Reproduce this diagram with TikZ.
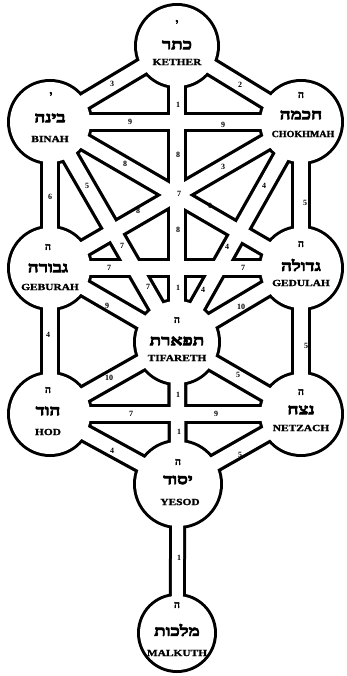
\documentclass[tikz,border=0pt]{standalone}
\usepackage{fontspec}
\setmainfont{Liberation Serif}
\newfontfamily\hebw[Script=Hebrew,FakeStretch=1.3,FakeBold=5]{Liberation Serif}
\newfontfamily\hebn[Script=Hebrew,FakeBold=4]{Liberation Serif}
\newfontfamily\engw[FakeStretch=1.2,FakeBold=1.5]{Liberation Serif}
\newfontfamily\engn[FakeStretch=1.05,FakeBold=1.5]{Liberation Serif}
\TeXXeTstate=1
\begin{document}
\begin{tikzpicture}[x=1pt,y=-1pt,
  pathout/.style={line width=20pt, draw=black},
  pathin/.style={line width=13.5pt, draw=white},
  stemout/.style={line width=17pt, draw=black},
  stemin/.style={line width=11pt, draw=white},
  num/.style={font=\fontsize{8}{8}\selectfont\bfseries, inner sep=0pt},
  hebname/.style={font=\hebw\fontsize{14.5}{14.5}\selectfont\bfseries, inner sep=0pt},
  heblet/.style={font=\hebn\fontsize{10}{10}\selectfont\bfseries, inner sep=0pt},
  engname/.style={font=\engw\fontsize{9.5}{9.5}\selectfont\bfseries, inner sep=0pt}]
\useasboundingbox (0,0) rectangle (346,676);
\fill[white] (0,0) rectangle (346,676);
% centres
\coordinate (K) at (177,46);
\coordinate (B) at (50,122);
\coordinate (C) at (301,122);
\coordinate (G) at (50,268);
\coordinate (D) at (301,268);
\coordinate (T) at (177,342);
\coordinate (H) at (50,414);
\coordinate (N) at (301,414);
\coordinate (Y) at (178,484);
\coordinate (M) at (177,633);
\def\tpaths{K/B,K/C,K/T,B/C,B/D,C/G,B/T,C/T,B/G,C/D,G/D,G/T,D/T,G/H,D/N,T/H,T/N,H/N,H/Y,N/Y,T/Y}
\def\tcircles{K/40,B/40,C/40,G/40,D/40,T/41,H/40,N/40,Y/42,M/37}
% black layer
\foreach \a/\b in \tpaths {\draw[pathout] (\a) -- (\b);}
\draw[stemout] (Y) -- (M);
\foreach \n/\r in \tcircles {\fill[black] (\n) circle[radius=\r pt+3pt];}
% white layer
\foreach \a/\b in \tpaths {\draw[pathin] (\a) -- (\b);}
\draw[stemin] (Y) -- (M);
\foreach \n/\r in \tcircles {\fill[white] (\n) circle[radius=\r pt];}
% sephiroth texts
\node[heblet] (kl) at (177,23) {\beginR י\endR};
\node[hebname] (kh) at (177,45) {\beginR כתר\endR};
\node[engname] (ke) at (177,62) {KETHER};
\node[heblet] (bl) at (51,95) {\beginR י\endR};
\node[hebname] (bh) at (50,118) {\beginR בינה\endR};
\node[engname] (be) at (50,139) {BINAH};
\node[heblet] (cl) at (301,95) {\beginR ה\endR};
\node[hebname] (ch) at (301,115) {\beginR חכמה\endR};
\node[font=\engn\fontsize{9.5}{9.5}\selectfont\bfseries, inner sep=0pt] (ce) at (303,134) {CHOKHMAH};
\node[heblet] (gl) at (48,247) {\beginR ה\endR};
\node[hebname] (gh) at (48,268) {\beginR גבורה\endR};
\node[engname] (ge) at (50,287) {GEBURAH};
\node[heblet] (dl) at (301,244) {\beginR ה\endR};
\node[hebname] (dh) at (301,265) {\beginR גדולה\endR};
\node[engname] (de) at (301,283) {GEDULAH};
\node[heblet] (tl) at (177,320) {\beginR ה\endR};
\node[hebname] (th) at (177,341) {\beginR תפארת\endR};
\node[engname] (te) at (177,358) {TIFARETH};
\node[heblet] (hl) at (48,390) {\beginR ה\endR};
\node[hebname] (hh) at (48,411) {\beginR הוד\endR};
\node[engname] (he) at (48,432) {HOD};
\node[heblet] (nl) at (301,392) {\beginR ה\endR};
\node[hebname] (nh) at (301,410) {\beginR נצח\endR};
\node[engname] (ne) at (301,428) {NETZACH};
\node[heblet] (yl) at (178,462) {\beginR ה\endR};
\node[hebname] (yh) at (178,480) {\beginR יסוד\endR};
\node[engname] (ye) at (180,502) {YESOD};
\node[heblet] (ml) at (177,605) {\beginR ה\endR};
\node[hebname] (mh) at (177,630) {\beginR מלכות\endR};
\node[engname] (me) at (177,653) {MALKUTH};
% path numbers
\node[num] (n1) at (112,84) {3};
\node[num] (n2) at (240,85) {2};
\node[num] (n3) at (178,105) {1};
\node[num] (n4) at (130,122) {9};
\node[num] (n5) at (223,125) {9};
\node[num] (n6) at (178,155) {8};
\node[num] (n7) at (125,164) {8};
\node[num] (n8) at (223,167) {3};
\node[num] (n9) at (87,186) {5};
\node[num] (n10) at (264,186) {4};
\node[num] (n11) at (50,197) {6};
\node[num] (n12) at (305,203) {5};
\node[num] (n13) at (210,206) {0};
\node[num] (n14) at (138,211) {8};
\node[num] (n15) at (178,230) {8};
\node[num] (n16) at (122,246) {7};
\node[num] (n17) at (227,247) {4};
\node[num] (n18) at (109,268) {7};
\node[num] (n19) at (243,268) {7};
\node[num] (n20) at (148,287) {7};
\node[num] (n21) at (178,288) {1};
\node[num] (n22) at (203,290) {4};
\node[num] (n23) at (107,306) {9};
\node[num] (n24) at (241,307) {10};
\node[num] (n25) at (48,335) {4};
\node[num] (n26) at (306,346) {5};
\node[num] (n27) at (109,378) {10};
\node[num] (n28) at (238,375) {5};
\node[num] (n29) at (178,395) {1};
\node[num] (n30) at (131,414) {7};
\node[num] (n31) at (216,414) {9};
\node[num] (n32) at (179,432) {1};
\node[num] (n33) at (112,451) {4};
\node[num] (n34) at (240,455) {5};
\node[num] (n35) at (179,558) {1};
\node[num] (n36) at (179,194) {7};
\end{tikzpicture}
\end{document}
